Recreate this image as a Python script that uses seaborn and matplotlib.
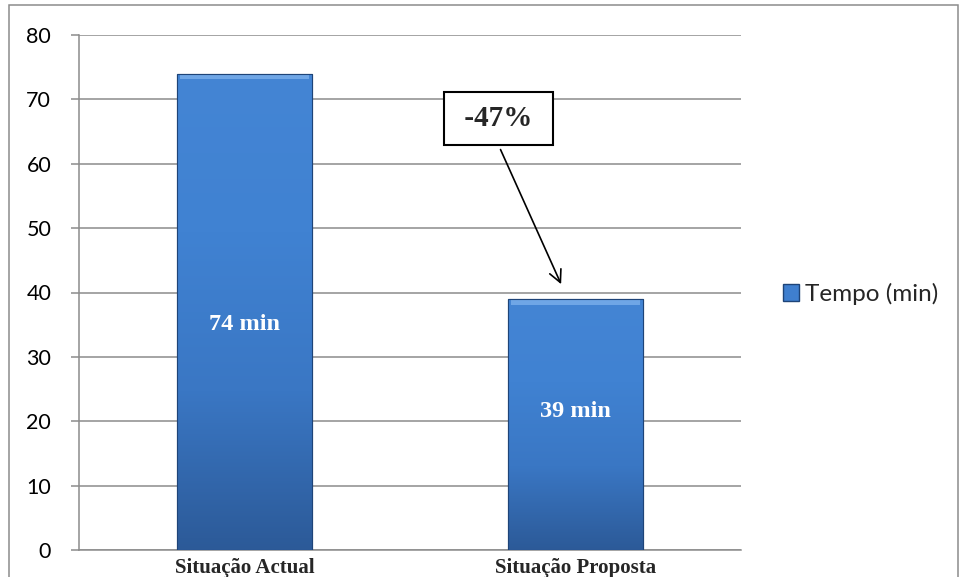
"""
plot.py
-------
Tempo (min): situação actual vs situação proposta, Excel-style bar chart.
"""

import numpy as np
import pandas as pd
import matplotlib
matplotlib.use("Agg")
import matplotlib.pyplot as plt
import matplotlib.patches as mpatches
from matplotlib.colors import LinearSegmentedColormap
import seaborn as sns

categories = ["Situação Actual", "Situação Proposta"]
tempo = [74, 39]
bar_labels = ["74 min", "39 min"]
label_heights = [35, 21.5]
reduction = "-47%"
yticks = [0, 10, 20, 30, 40, 50, 60, 70, 80]
series_name = "Tempo (min)"

df = pd.DataFrame({"Situação": categories, series_name: tempo})

sns.set_theme(style="white")
plt.rcParams["font.family"] = ["Lato", "DejaVu Sans"]

fig = plt.figure(figsize=(9.59, 5.77), dpi=100)
W, H = 959, 577
ax = fig.add_axes([79 / W, 1 - 550 / H, (741 - 79) / W, (550 - 35) / H])

sns.barplot(data=df, x="Situação", y=series_name, color="#3F7FCF",
            width=0.405, edgecolor="#1E4478", linewidth=0.8, ax=ax, zorder=3)

# vertical gradient inside each bar (lighter top, darker bottom)
grad = LinearSegmentedColormap.from_list(
    "bar", ["#2C5A98", "#3A77C4", "#4082D2", "#4485D4"])
for patch in ax.patches:
    x0, y0 = patch.get_x(), patch.get_y()
    w, h = patch.get_width(), patch.get_height()
    img = ax.imshow(np.linspace(0, 1, 256).reshape(-1, 1), cmap=grad,
                    aspect="auto", origin="lower",
                    extent=[x0, x0 + w, y0, y0 + h], zorder=3.5)
    img.set_clip_path(patch)
    # light bevel on top edge
    ax.add_patch(mpatches.Rectangle((x0 + w * 0.02, y0 + h - 0.9), w * 0.96, 0.7,
                                    color="#6FA6E6", lw=0, zorder=3.6))
    ax.add_patch(mpatches.Rectangle((x0, y0), w, h, fill=False,
                                    edgecolor="#1E4478", lw=0.8, zorder=3.7))

ax.set_xlim(-0.5, 1.5)
ax.set_ylim(0, 80)
ax.set_yticks(yticks)
ax.yaxis.grid(True, color="#8C8C8C", linewidth=1.1, zorder=0)
ax.set_axisbelow(True)
for side in ["top", "right"]:
    ax.spines[side].set_visible(False)
ax.spines["left"].set_color("#8C8C8C")
ax.spines["bottom"].set_color("#8C8C8C")
ax.spines["left"].set_linewidth(1.1)
ax.spines["bottom"].set_linewidth(1.1)
ax.tick_params(axis="y", left=True, length=6, width=1.1, color="#8C8C8C",
               labelsize=15.5, pad=14)
ax.tick_params(axis="x", bottom=False, pad=0)
ax.set_xticks(range(len(categories)))
ax.set_xticklabels(categories, family=["Liberation Serif"], fontweight="bold",
                   fontsize=15)
ax.set_xlabel("")
ax.set_ylabel("")
ax.set_yticklabels([str(t) for t in yticks], color="black")

for i, (lab, yh) in enumerate(zip(bar_labels, label_heights)):
    ax.text(i, yh, lab, ha="center", va="center", color="white",
            family=["Liberation Serif"], fontweight="bold", fontsize=17.5, zorder=5)

# reduction annotation
ax.annotate("", xy=(1.0 - 0.04, 40.9), xytext=(0.77, 62.6),
            arrowprops=dict(arrowstyle="->", color="black", lw=1.2,
                            mutation_scale=22), zorder=6)
ax.text(0.767, 67.0, " " + reduction + " ", ha="center", va="center",
        family=["Liberation Serif"], fontweight="bold", fontsize=21, zorder=6,
        bbox=dict(boxstyle="square,pad=0.45", facecolor="white",
                  edgecolor="black", linewidth=1.5))

# legend
handle = mpatches.Patch(facecolor="#3F7FCF", edgecolor="#1E4478", label=series_name)
fig.legend(handles=[handle], loc="center left", bbox_to_anchor=(783 / W, 1 - 294 / H),
           frameon=False, fontsize=17.5, handlelength=0.65, handleheight=0.65,
           handletextpad=0.25, borderaxespad=0, borderpad=0)

# outer chart border
fig.patches.append(mpatches.Rectangle((9 / W, -0.05), (958 - 9) / W, 1 - 5 / H + 0.05,
                                      transform=fig.transFigure, fill=False,
                                      edgecolor="#8C8C8C", linewidth=1.1))

fig.savefig("out.png", dpi=100)
plt.close(fig)
